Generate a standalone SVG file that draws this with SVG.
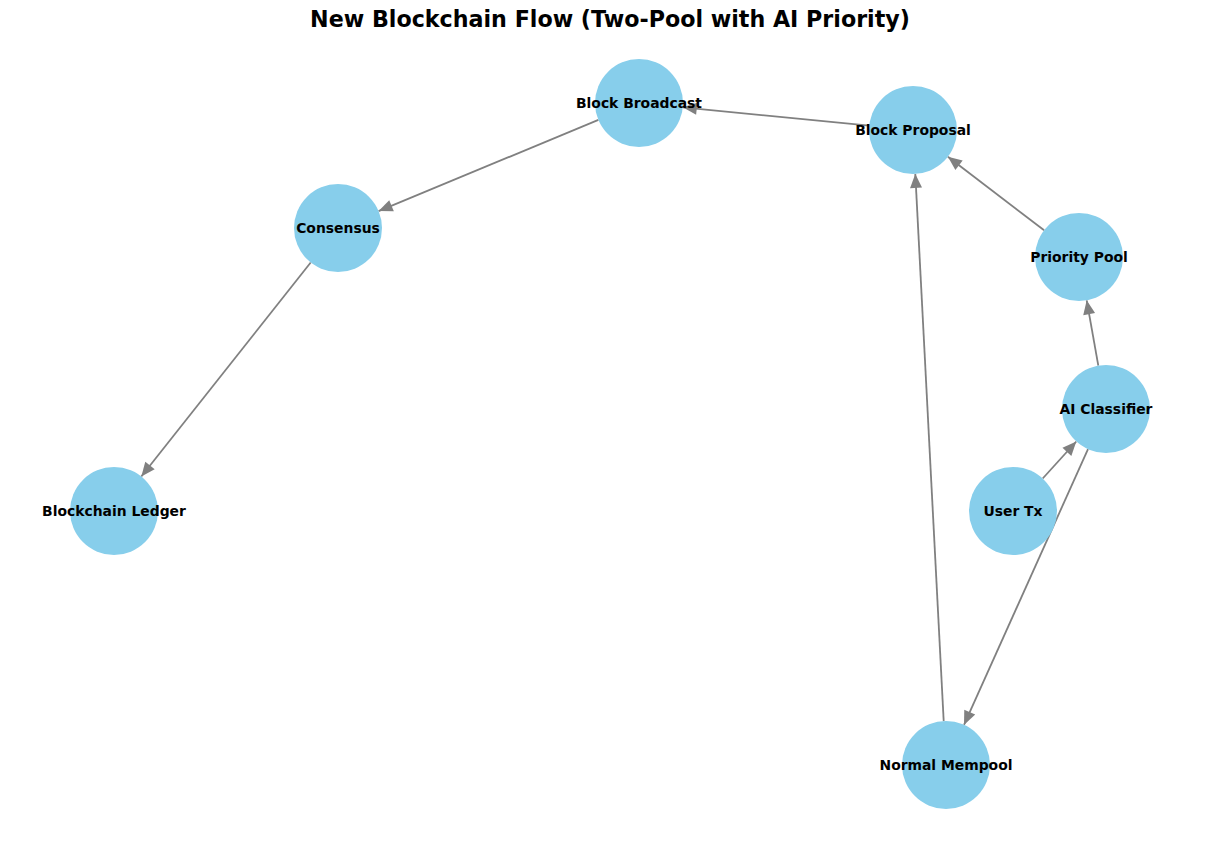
<svg xmlns="http://www.w3.org/2000/svg" width="1220" height="844" viewBox="0 0 1220 844">
<style>
.node{fill:#87ceeb}
.lbl{font-family:"DejaVu Sans",sans-serif;font-weight:bold;font-size:13.9px;fill:#000;text-anchor:middle;dominant-baseline:central}
.edge{stroke:#808080;stroke-width:1.8;fill:none;marker-end:url(#arr)}
.title{font-family:"DejaVu Sans",sans-serif;font-weight:bold;font-size:22.2px;fill:#000;text-anchor:middle}
</style>
<defs>
<marker id="arr" markerUnits="userSpaceOnUse" markerWidth="16" markerHeight="16" viewBox="0 0 16 16" refX="15" refY="8" orient="auto">
<path d="M1,2 L15,8 L1,14 Z" fill="#808080"/>
</marker>
</defs>
<rect width="1220" height="844" fill="#fff"/>
<text class="title" x="610" y="27">New Blockchain Flow (Two-Pool with AI Priority)</text>
<g id="edges">
<line class="edge" x1="1042.7" y1="478.5" x2="1076.3" y2="441.5"/>
<line class="edge" x1="1098.3" y1="365.7" x2="1086.7" y2="300.3"/>
<line class="edge" x1="1088.0" y1="449.1" x2="964.0" y2="724.9"/>
<line class="edge" x1="1044.1" y1="230.3" x2="947.9" y2="156.7"/>
<line class="edge" x1="943.7" y1="721.1" x2="915.3" y2="173.9"/>
<line class="edge" x1="869.2" y1="125.7" x2="682.8" y2="107.3"/>
<line class="edge" x1="598.4" y1="119.9" x2="378.6" y2="211.1"/>
<line class="edge" x1="310.7" y1="262.5" x2="141.3" y2="476.5"/>
</g>
<g id="node-block-broadcast"><circle class="node" cx="639" cy="103" r="44"/><text class="lbl" x="639" y="103">Block Broadcast</text></g>
<g id="node-block-proposal"><circle class="node" cx="913" cy="130" r="44"/><text class="lbl" x="913" y="130">Block Proposal</text></g>
<g id="node-consensus"><circle class="node" cx="338" cy="228" r="44"/><text class="lbl" x="338" y="228">Consensus</text></g>
<g id="node-priority-pool"><circle class="node" cx="1079" cy="257" r="44"/><text class="lbl" x="1079" y="257">Priority Pool</text></g>
<g id="node-ai-classifier"><circle class="node" cx="1106" cy="409" r="44"/><text class="lbl" x="1106" y="409">AI Classifier</text></g>
<g id="node-user-tx"><circle class="node" cx="1013" cy="511" r="44"/><text class="lbl" x="1013" y="511">User Tx</text></g>
<g id="node-blockchain-ledger"><circle class="node" cx="114" cy="511" r="44"/><text class="lbl" x="114" y="511">Blockchain Ledger</text></g>
<g id="node-normal-mempool"><circle class="node" cx="946" cy="765" r="44"/><text class="lbl" x="946" y="765">Normal Mempool</text></g>
</svg>
